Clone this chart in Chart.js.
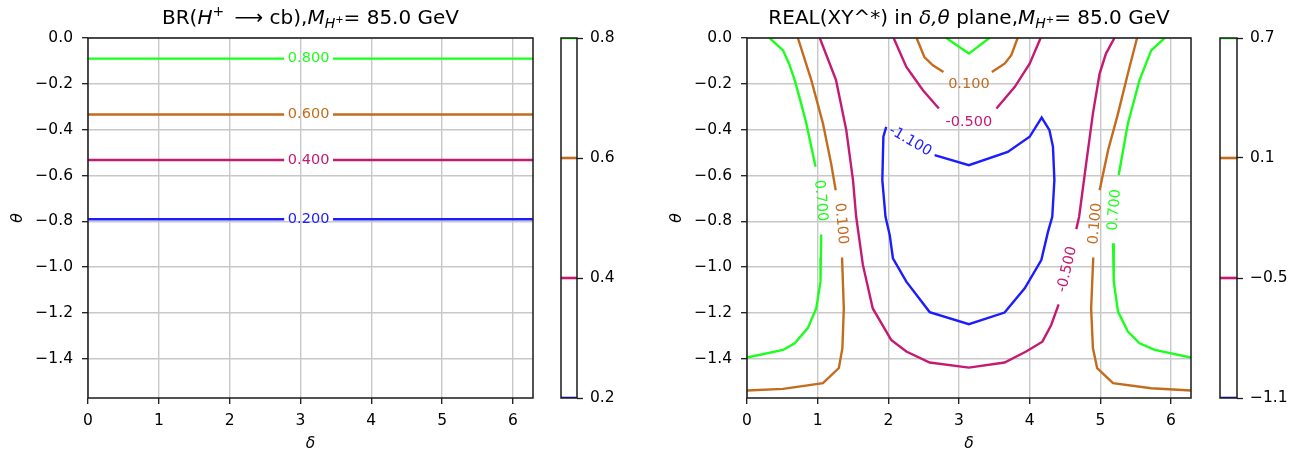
<!DOCTYPE html>
<html>
<head>
<meta charset="utf-8">
<script src="https://cdn.jsdelivr.net/npm/chart.js@4.4.1/dist/chart.umd.min.js"></script>
<style>
  html, body { margin: 0; padding: 0; background: #fff; }
  #wrap { position: relative; width: 1304px; height: 454px; overflow: hidden; }
  canvas { position: absolute; top: 0; }
</style>
</head>
<body>
<div id="wrap">
  <canvas id="brChart" width="540" height="454" style="left:0px"></canvas>
  <canvas id="brBar" width="67" height="454" style="left:560px"></canvas>
  <canvas id="reChart" width="539" height="454" style="left:659px"></canvas>
  <canvas id="reBar" width="78" height="454" style="left:1219px"></canvas>
</div>
<script>
// ---- axes ----
const xTicks = [0, 1, 2, 3, 4, 5, 6];
const xTickLabels = ['0', '1', '2', '3', '4', '5', '6'];
const yTicks = [0, -0.2, -0.4, -0.6, -0.8, -1.0, -1.2, -1.4];
const yTickLabels = ['0.0', '\u22120.2', '\u22120.4', '\u22120.6', '\u22120.8', '\u22121.0', '\u22121.2', '\u22121.4'];

// ---- left panel: BR(H+ -> cb) ----
const brLevels = [0.2, 0.4, 0.6, 0.8];
const brLevelText = ['0.200', '0.400', '0.600', '0.800'];
const brTheta = [-0.791, -0.532, -0.334, -0.090];
const brDeltaA = [0, 2.77];
const brDeltaB = [3.46, 2 * Math.PI];
const brLabelDelta = 3.115;
const brBarTicks = [0.2, 0.4, 0.6, 0.8];
const brBarLabels = ['0.2', '0.4', '0.6', '0.8'];

// ---- right panel: REAL(XY*) ----
const reLevels = [-1.1, -0.5, 0.1, 0.7];
const reBarTicks = [-1.1, -0.5, 0.1, 0.7];
const reBarLabels = ['\u22121.1', '\u22120.5', '0.1', '0.7'];

// level -1.1
const blueLoop = [[2.655, -0.511], [3.14, -0.555], [3.69, -0.497], [4.0, -0.431], [4.17, -0.347], [4.28, -0.402],
  [4.33, -0.475], [4.35, -0.62], [4.32, -0.78], [4.26, -0.845], [4.165, -0.969], [3.93, -1.092], [3.645, -1.198],
  [3.14, -1.249], [2.585, -1.196], [2.255, -1.063], [2.065, -0.961], [2.02, -0.86], [1.96, -0.78], [1.915, -0.62],
  [1.93, -0.431], [1.97, -0.388]];
// level -0.5
const magentaMain = [[1.03, 0], [1.26, -0.184], [1.405, -0.402], [1.50, -0.62], [1.545, -0.78], [1.64, -0.99],
  [1.78, -1.18], [2.04, -1.317], [2.255, -1.368], [2.585, -1.416], [3.14, -1.438], [3.645, -1.416], [3.95, -1.368],
  [4.18, -1.325], [4.305, -1.252], [4.41, -1.162]];
const magentaRight = [[4.66, -0.834], [4.70, -0.78], [4.80, -0.547], [4.895, -0.33], [4.99, -0.155], [5.08, -0.068], [5.2, 0]];
const magentaTopL = [[2.075, 0], [2.255, -0.126], [2.49, -0.228], [2.715, -0.308]];
const magentaTopR = [[3.53, -0.308], [3.79, -0.213], [4.0, -0.112], [4.155, 0]];
// level 0.1
const orangeLeftA = [[0.72, 0], [0.91, -0.184], [1.075, -0.373], [1.19, -0.547], [1.255, -0.664]];
const orangeLeftB = [[1.345, -0.958], [1.37, -1.18], [1.35, -1.353], [1.30, -1.44], [1.075, -1.506], [0.51, -1.531], [0, -1.538]];
const orangeTopL = [[2.40, 0], [2.51, -0.083], [2.63, -0.119], [2.78, -0.148]];
const orangeTopR = [[3.465, -0.148], [3.645, -0.112], [3.74, -0.075], [3.83, 0]];
const orangeRightA = [[5.52, 0], [5.39, -0.155], [5.25, -0.33], [5.11, -0.49], [4.99, -0.664]];
const orangeRightB = [[4.90, -0.958], [4.87, -1.18], [4.895, -1.353], [4.955, -1.44], [5.18, -1.506], [5.72, -1.528], [2 * Math.PI, -1.538]];
// level 0.7
const greenLeftA = [[0.32, 0], [0.51, -0.054], [0.595, -0.112], [0.675, -0.184], [0.76, -0.279], [0.84, -0.373], [0.97, -0.562]];
const greenLeftB = [[1.05, -0.857], [1.045, -0.96], [1.04, -1.063], [0.98, -1.18], [0.86, -1.266], [0.675, -1.332], [0.51, -1.361], [0, -1.394]];
const greenTop = [[2.82, 0], [3.14, -0.068], [3.43, 0]];
const greenRightA = [[5.91, 0], [5.72, -0.054], [5.555, -0.184], [5.39, -0.373], [5.26, -0.598]];
const greenRightB = [[5.18, -0.896], [5.19, -1.063], [5.25, -1.194], [5.39, -1.281], [5.555, -1.332], [5.77, -1.361], [2 * Math.PI, -1.394]];

// inline contour labels
const reLabelText = ['-1.100', '-0.500', '-0.500', '0.100', '0.100', '0.100', '0.700', '0.700'];
const reLabelLevel = [-1.1, -0.5, -0.5, 0.1, 0.1, 0.1, 0.7, 0.7];
const reLabelDelta = [2.31, 3.14, 4.53, 3.14, 1.33, 4.93, 1.04, 5.20];
const reLabelTheta = [-0.45, -0.366, -1.01, -0.2, -0.81, -0.81, -0.71, -0.75];
const reLabelAngle = [30, 0, -77, 0, 85, -85, 85, -85];

// ---- style ----
const FONT = 'DejaVu Sans';
const levelColors = ['#1c1cff', '#c41a74', '#c46c1e', '#1cff1c'];

function pts(arr) { return arr.map(p => ({ x: p[0], y: p[1] })); }
function joinSegs(segs) {
  const out = [];
  segs.forEach((s, i) => {
    if (i) out.push({ x: s[0][0], y: null });
    out.push(...pts(s));
  });
  return out;
}
function lineSet(data, color) {
  return { data, borderColor: color, borderWidth: 2.4, showLine: true, pointRadius: 0, fill: false, tension: 0 };
}

const framePlugin = {
  id: 'frame',
  afterDraw(chart) {
    const a = chart.chartArea, ctx = chart.ctx;
    ctx.save();
    ctx.strokeStyle = '#1a1a1a';
    ctx.lineWidth = 1.5;
    ctx.strokeRect(a.left, a.top, a.right - a.left, a.bottom - a.top);
    ctx.restore();
  }
};

function drawRich(ctx, segs, cx, baseY, size) {
  const parts = segs.map(s => {
    const fs = size * (s.scale || 1);
    const font = (s.it ? 'italic ' : '') + fs + 'px "' + FONT + '"';
    ctx.font = font;
    return { t: s.t, font, w: ctx.measureText(s.t).width, dy: (s.dy || 0) * size };
  });
  const total = parts.reduce((a, p) => a + p.w, 0);
  let x = cx - total / 2;
  ctx.textAlign = 'left';
  ctx.textBaseline = 'alphabetic';
  ctx.fillStyle = '#000';
  parts.forEach(p => { ctx.font = p.font; ctx.fillText(p.t, x, baseY + p.dy); x += p.w; });
}

function titlePlugin(segs) {
  return {
    id: 'richTitle',
    afterDraw(chart) {
      const a = chart.chartArea;
      chart.ctx.save();
      drawRich(chart.ctx, segs, (a.left + a.right) / 2, 24, 20);
      chart.ctx.restore();
    }
  };
}

function labelPlugin(texts, xs, ys, colors, angles) {
  return {
    id: 'contourLabels',
    afterDatasetsDraw(chart) {
      const ctx = chart.ctx, sx = chart.scales.x, sy = chart.scales.y;
      texts.forEach((t, i) => {
        ctx.save();
        ctx.translate(sx.getPixelForValue(xs[i]), sy.getPixelForValue(ys[i]));
        ctx.rotate(angles[i] * Math.PI / 180);
        ctx.font = '14.5px "' + FONT + '"';
        ctx.fillStyle = colors[i];
        ctx.textAlign = 'center';
        ctx.textBaseline = 'middle';
        ctx.fillText(t, 0, 0);
        ctx.restore();
      });
    }
  };
}

function makeMain(id, datasets, plugins) {
  return new Chart(document.getElementById(id), {
    type: 'scatter',
    data: { datasets },
    options: {
      responsive: false, animation: false, devicePixelRatio: 1,
      layout: { padding: { top: 38, right: 7, left: 0, bottom: 0 } },
      plugins: { legend: { display: false }, tooltip: { enabled: false }, title: { display: false } },
      scales: {
        x: {
          type: 'linear', min: 0, max: 2 * Math.PI,
          afterBuildTicks: s => { s.ticks = xTicks.map(v => ({ value: v })); },
          afterFit: s => { s.height = 56; },
          ticks: { autoSkip: false, maxRotation: 0, padding: 8, color: '#000',
                   font: { family: FONT, size: 15.5 }, callback: (v, i) => xTickLabels[i] },
          grid: { color: '#c8c8c8', lineWidth: 1.4, tickColor: '#1a1a1a', tickLength: 6, tickWidth: 1.3 },
          border: { display: false },
          title: { display: true, text: '\u03b4', color: '#000',
                   font: { family: FONT, size: 15.5, style: 'italic' }, padding: { top: 0, bottom: 1 } }
        },
        y: {
          type: 'linear', min: -Math.PI / 2, max: 0,
          afterBuildTicks: s => { s.ticks = yTicks.map(v => ({ value: v })); },
          afterFit: s => { s.width = 88; },
          ticks: { autoSkip: false, padding: 9, color: '#000',
                   font: { family: FONT, size: 15.5 }, callback: (v, i) => yTickLabels[i] },
          grid: { color: '#c8c8c8', lineWidth: 1.4, tickColor: '#1a1a1a', tickLength: 6, tickWidth: 1.3 },
          border: { display: false },
          title: { display: true, text: '\u03b8', color: '#000',
                   font: { family: FONT, size: 15.5, style: 'italic' }, padding: { top: 9, bottom: 0 } }
        }
      }
    },
    plugins: [framePlugin].concat(plugins)
  });
}

function makeBar(id, levels, ticks, labels, yWidth) {
  const datasets = levels.map((lev, i) => lineSet([{ x: 0, y: lev }, { x: 1, y: lev }], levelColors[i]));
  datasets.forEach(d => { d.borderWidth = 2.6; });
  return new Chart(document.getElementById(id), {
    type: 'scatter',
    data: { datasets },
    options: {
      responsive: false, animation: false, devicePixelRatio: 1,
      layout: { padding: { top: 38, bottom: 56, left: 1, right: 0 } },
      plugins: { legend: { display: false }, tooltip: { enabled: false } },
      scales: {
        x: { type: 'linear', min: 0, max: 1, display: false },
        y: {
          type: 'linear', position: 'right', min: levels[0], max: levels[levels.length - 1],
          afterBuildTicks: s => { s.ticks = ticks.map(v => ({ value: v })); },
          afterFit: s => { s.width = yWidth; },
          ticks: { autoSkip: false, padding: 7, color: '#000',
                   font: { family: FONT, size: 15.5 }, callback: (v, i) => labels[i] },
          grid: { drawOnChartArea: false, drawTicks: true, tickLength: 6, tickColor: '#1a1a1a', tickWidth: 1.3 },
          border: { display: false }
        }
      }
    },
    plugins: [framePlugin]
  });
}

// ---- left panel ----
const brSets = brLevels.map((lev, i) => lineSet(joinSegs([
  brDeltaA.map(d => [d, brTheta[i]]),
  brDeltaB.map(d => [d, brTheta[i]])
]), levelColors[i]));

makeMain('brChart', brSets, [
  titlePlugin([
    { t: 'BR(' }, { t: 'H', it: 1 }, { t: '+', scale: 0.7, dy: -0.42 }, { t: ' \u2009\u27f6 ' }, { t: 'cb),' },
    { t: 'M', it: 1 }, { t: 'H', it: 1, scale: 0.7, dy: 0.2 }, { t: '+', scale: 0.5, dy: -0.05 }, { t: '= 85.0 GeV' }
  ]),
  labelPlugin(brLevelText, brLevels.map(() => brLabelDelta), brTheta, levelColors, brLevels.map(() => 0))
]);
makeBar('brBar', brLevels, brBarTicks, brBarLabels, 50);

// ---- right panel ----
const reSets = [
  lineSet(joinSegs([blueLoop]), levelColors[0]),
  lineSet(joinSegs([magentaMain, magentaRight, magentaTopL, magentaTopR]), levelColors[1]),
  lineSet(joinSegs([orangeLeftA, orangeLeftB, orangeTopL, orangeTopR, orangeRightA, orangeRightB]), levelColors[2]),
  lineSet(joinSegs([greenLeftA, greenLeftB, greenTop, greenRightA, greenRightB]), levelColors[3])
];

makeMain('reChart', reSets, [
  titlePlugin([
    { t: 'REAL(XY^*) in ' }, { t: '\u03b4,\u03b8', it: 1 }, { t: ' plane,' },
    { t: 'M', it: 1 }, { t: 'H', it: 1, scale: 0.7, dy: 0.2 }, { t: '+', scale: 0.5, dy: -0.05 }, { t: '= 85.0 GeV' }
  ]),
  labelPlugin(reLabelText, reLabelDelta, reLabelTheta,
    reLabelLevel.map(l => levelColors[reLevels.indexOf(l)]), reLabelAngle)
]);
makeBar('reBar', reLevels, reBarTicks, reBarLabels, 60);
</script>
</body>
</html>
